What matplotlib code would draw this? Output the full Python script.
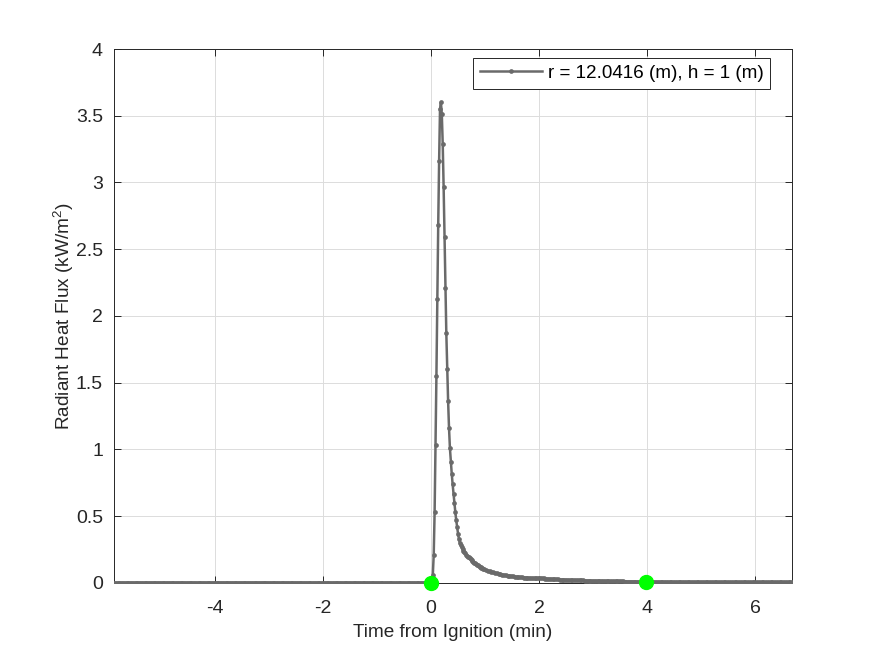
import numpy as np
import matplotlib
matplotlib.use("Agg")
import matplotlib.pyplot as plt

plt.rcParams['font.family'] = ['Liberation Sans', 'DejaVu Sans']
plt.rcParams['mathtext.fontset'] = 'custom'
plt.rcParams['mathtext.rm'] = 'Liberation Sans'
plt.rcParams['mathtext.it'] = 'Liberation Sans:italic'
plt.rcParams['mathtext.bf'] = 'Liberation Sans:bold'
plt.rcParams['axes.unicode_minus'] = False

# ---------------- data (time in seconds from ignition, flux in kW/m^2) ----------------
# pre-ignition baseline, sampled every 2 s from -352 s to -2 s
pre_time_s = np.arange(-352, 0, 2)
pre_flux = [
    0.002, 0.002, 0.001, 0.002, 0.002, 0.002, 0.001, 0.002, 0.002, 0.002, 0.002, 0.001, 0.002, 0.002, 0.002, 0.002,
    0.002, 0.001, 0.002, 0.002, 0.002, 0.002, 0.002, 0.001, 0.002, 0.002, 0.002, 0.002, 0.001, 0.002, 0.002, 0.002,
    0.002, 0.002, 0.001, 0.002, 0.002, 0.002, 0.002, 0.002, 0.001, 0.002, 0.002, 0.002, 0.002, 0.002, 0.001, 0.002,
    0.002, 0.002, 0.002, 0.001, 0.002, 0.002, 0.002, 0.002, 0.002, 0.001, 0.002, 0.002, 0.002, 0.002, 0.001, 0.002,
    0.002, 0.002, 0.002, 0.002, 0.001, 0.002, 0.002, 0.002, 0.002, 0.001, 0.002, 0.002, 0.002, 0.002, 0.002, 0.001,
    0.002, 0.002, 0.002, 0.003, 0.002, 0.002, 0.001, 0.002, 0.002, 0.002, 0.002, 0.002, 0.001, 0.002, 0.002, 0.002,
    0.002, 0.002, 0.001, 0.002, 0.002, 0.002, 0.002, 0.002, 0.001, 0.002, 0.002, 0.002, 0.002, 0.002, 0.001, 0.002,
    0.002, 0.002, 0.002, 0.001, 0.002, 0.002, 0.002, 0.002, 0.002, 0.001, 0.002, 0.002, 0.002, 0.002, 0.002, 0.001,
    0.002, 0.002, 0.002, 0.002, 0.001, 0.002, 0.002, 0.002, 0.002, 0.002, 0.001, 0.002, 0.002, 0.002, 0.002, 0.002,
    0.001, 0.002, 0.002, 0.002, 0.002, 0.002, 0.001, 0.002, 0.002, 0.002, 0.002, 0.002, 0.001, 0.002, 0.002, 0.002,
    0.002, 0.002, 0.001, 0.002, 0.002, 0.002, 0.002, 0.002, 0.001, 0.002, 0.002, 0.002, 0.002, 0.002, 0.001, 0.002,
]

# ignition peak, sampled every 1 s from 0 s to 59 s
peak_time_s = np.arange(0, 60, 1)
peak_flux = [
    0.00, 0.01, 0.06, 0.21, 0.53, 1.03, 1.55, 2.13, 2.68, 3.16,
    3.55, 3.60, 3.51, 3.29, 2.97, 2.59, 2.21, 1.87, 1.60, 1.36,
    1.16, 1.01, 0.91, 0.82, 0.74, 0.67, 0.60, 0.53, 0.47, 0.42,
    0.37, 0.33, 0.30, 0.285, 0.270, 0.255, 0.243, 0.232, 0.222, 0.213,
    0.205, 0.198, 0.191, 0.185, 0.178, 0.171, 0.164, 0.158, 0.152, 0.146,
    0.141, 0.136, 0.131, 0.126, 0.122, 0.118, 0.114, 0.110, 0.106, 0.102,
]

# decay tail, sampled every 2 s from 61 s to 401 s
tail_time_s = np.arange(61, 402, 2)
tail_flux = [
    0.096, 0.091, 0.087, 0.083, 0.079, 0.075, 0.072, 0.069, 0.066, 0.063,
    0.060, 0.058, 0.056, 0.054, 0.052, 0.050, 0.048, 0.046, 0.045, 0.043,
    0.042, 0.041, 0.040, 0.039, 0.038, 0.037, 0.036, 0.036, 0.035, 0.038,
    0.039, 0.036, 0.034, 0.033, 0.032, 0.031, 0.030, 0.029, 0.028, 0.028,
    0.027, 0.026, 0.025, 0.025, 0.024, 0.023, 0.022, 0.022, 0.021, 0.021,
    0.020, 0.020, 0.019, 0.020, 0.019, 0.018, 0.018, 0.017, 0.017, 0.016,
    0.016, 0.016, 0.015, 0.015, 0.015, 0.015, 0.014, 0.014, 0.014, 0.013,
    0.013, 0.013, 0.013, 0.012, 0.012, 0.012, 0.012, 0.011, 0.011, 0.011,
    0.011, 0.011, 0.010, 0.010, 0.010, 0.010, 0.010, 0.010, 0.009, 0.009,
    0.009, 0.009, 0.009, 0.009, 0.008, 0.008, 0.008, 0.008, 0.008, 0.008,
    0.008, 0.008, 0.007, 0.007, 0.007, 0.007, 0.007, 0.007, 0.007, 0.007,
    0.007, 0.007, 0.007, 0.006, 0.006, 0.006, 0.006, 0.006, 0.006, 0.006,
    0.006, 0.006, 0.006, 0.006, 0.006, 0.006, 0.006, 0.006, 0.005, 0.005,
    0.005, 0.005, 0.005, 0.005, 0.005, 0.005, 0.005, 0.005, 0.005, 0.005,
    0.005, 0.005, 0.005, 0.005, 0.005, 0.005, 0.005, 0.005, 0.005, 0.005,
    0.005, 0.005, 0.005, 0.005, 0.005, 0.005, 0.005, 0.005, 0.005, 0.005,
    0.005, 0.005, 0.005, 0.005, 0.005, 0.005, 0.005, 0.005, 0.005, 0.005,
    0.005,
]

# highlighted event points (time in min, flux)
event_time_min = [0.0, 3.98]
event_flux = [0.0, 0.005]

legend_label = 'r = 12.0416 (m), h = 1 (m)'
x_ticks = [-4, -2, 0, 2, 4, 6]
y_ticks = [0, 0.5, 1, 1.5, 2, 2.5, 3, 3.5, 4]
y_tick_labels = ['0', '0.5', '1', '1.5', '2', '2.5', '3', '3.5', '4']

# ---------------- plot ----------------
time_min = np.concatenate([pre_time_s, peak_time_s, tail_time_s]) / 60.0
flux = np.concatenate([pre_flux, peak_flux, tail_flux])

fig = plt.figure(figsize=(8.75, 6.56), dpi=100)
ax = fig.add_axes([0.1303, 0.1113, 0.775, 0.814])

line_color = '#6a6a6a'
ax.plot(time_min, flux, color=line_color, linewidth=1.8, marker='o', markersize=3.4,
        markeredgewidth=0, markerfacecolor=line_color, label=legend_label, zorder=3)
ax.plot(event_time_min, event_flux, linestyle='none', marker='o', markersize=10,
        markerfacecolor='#00ff00', markeredgecolor='#00ff00', zorder=4, clip_on=False)

ax.set_xlim(time_min.min(), time_min.max())
ax.set_ylim(0, 4)
ax.set_xticks(x_ticks)
ax.set_yticks(y_ticks)
ax.set_yticklabels(y_tick_labels)

ax.grid(True, color='#dcdcdc', linewidth=0.7)
ax.set_axisbelow(True)
ax.tick_params(direction='in', length=5, width=0.7, top=True, right=True,
               labelsize=14, colors='#262626')
ax.tick_params(axis='x', pad=12)
ax.tick_params(axis='y', pad=8)
for s in ax.spines.values():
    s.set_color('#262626')
    s.set_linewidth(0.7)

ax.set_xlabel('Time from Ignition (min)', fontsize=13.7, color='#262626', labelpad=5)
ax.set_ylabel(r'Radiant Heat Flux (kW/m$^{\mathrm{2}}$)', fontsize=13.7, color='#262626', labelpad=0)

leg = ax.legend(loc='upper right', bbox_to_anchor=(0.9676, 0.983), borderaxespad=0,
                fontsize=13.6, fancybox=False, framealpha=1, edgecolor='#262626',
                handlelength=3.3, handletextpad=0.3, borderpad=0.35)
leg.get_frame().set_linewidth(0.7)

fig.savefig('out.png', dpi=100)
